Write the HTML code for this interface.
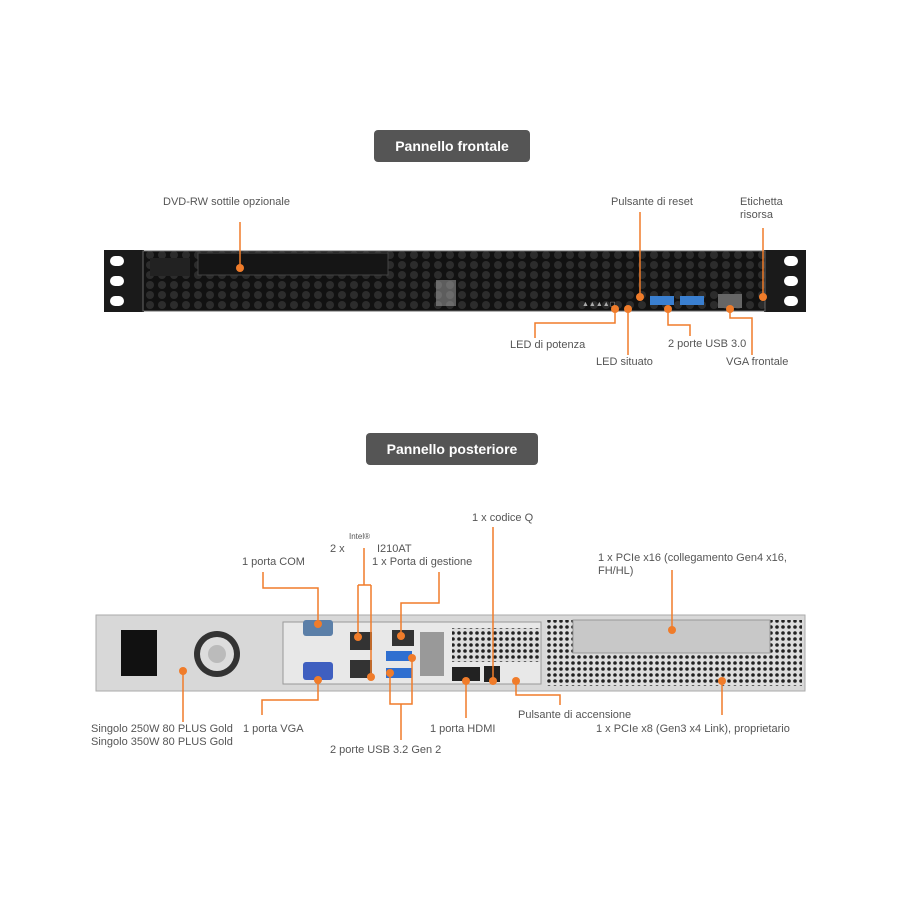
<!DOCTYPE html><html><head><style>
body{margin:0;background:#fff;width:900px;height:900px;position:relative;overflow:hidden;font-family:"Liberation Sans",sans-serif}
.t{position:absolute;font-size:11px;color:#555;white-space:nowrap;line-height:13px}
.b{position:absolute;background:#555;color:#fff;font-weight:bold;font-size:14px;border-radius:4px;text-align:center;line-height:32px}
svg{position:absolute;left:0;top:0}
</style></head><body>
<div class="b" style="left:374px;top:130px;width:156px;height:32px">Pannello frontale</div>
<div class="b" style="left:366px;top:433px;width:172px;height:32px">Pannello posteriore</div>
<svg width="900" height="900">
<defs>
<pattern id="hx" width="12" height="10" patternUnits="userSpaceOnUse"><rect width="12" height="10" fill="#111"/><circle cx="6" cy="5" r="4" fill="#2c2c2c"/></pattern>
<pattern id="gd" width="6" height="6" patternUnits="userSpaceOnUse"><rect width="6" height="6" fill="#ddd"/><circle cx="3" cy="3" r="1.8" fill="#222"/></pattern>
</defs>
<rect x="104" y="250" width="40" height="62" fill="#1a1a1a"/>
<rect x="764" y="250" width="42" height="62" fill="#1a1a1a"/>
<g fill="#fff"><rect x="110" y="256" width="14" height="10" rx="5"/><rect x="110" y="276" width="14" height="10" rx="5"/><rect x="110" y="296" width="14" height="10" rx="5"/>
<rect x="784" y="256" width="14" height="10" rx="5"/><rect x="784" y="276" width="14" height="10" rx="5"/><rect x="784" y="296" width="14" height="10" rx="5"/></g>
<rect x="143" y="251" width="622" height="60" fill="url(#hx)" stroke="#666"/>
<rect x="198" y="253" width="190" height="22" fill="#151515" stroke="#444"/>
<rect x="150" y="258" width="40" height="18" fill="#222"/>
<rect x="436" y="280" width="20" height="26" fill="#aaa" opacity=".5"/>
<rect x="650" y="296" width="24" height="9" fill="#3a7fd0"/><rect x="680" y="296" width="24" height="9" fill="#3a7fd0"/>
<rect x="718" y="294" width="24" height="14" fill="#666"/>
<text x="582" y="306" font-size="7" fill="#aaa" font-family="Liberation Sans">▲▲▲▲◻</text>
<rect x="96" y="615" width="709" height="76" fill="#d8d8d8" stroke="#aaa"/>
<rect x="121" y="630" width="36" height="46" fill="#111"/>
<circle cx="217" cy="654" r="23" fill="#333"/><circle cx="217" cy="654" r="17" fill="#ddd"/><circle cx="217" cy="654" r="9" fill="#bbb"/>
<rect x="283" y="622" width="258" height="62" fill="#e8e8e8" stroke="#999"/>
<rect x="303" y="620" width="30" height="16" rx="3" fill="#5b7fa8"/>
<rect x="303" y="662" width="30" height="18" rx="3" fill="#3f5fc0"/>
<rect x="350" y="632" width="22" height="18" fill="#333"/><rect x="350" y="660" width="22" height="18" fill="#333"/>
<rect x="392" y="630" width="22" height="16" fill="#333"/>
<rect x="386" y="651" width="26" height="10" fill="#2f6fd0"/><rect x="386" y="668" width="26" height="10" fill="#2f6fd0"/>
<rect x="420" y="632" width="24" height="44" fill="#999"/>
<rect x="452" y="628" width="88" height="34" fill="url(#gd)"/>
<rect x="452" y="667" width="28" height="14" fill="#222"/><rect x="484" y="666" width="16" height="16" fill="#222"/>
<rect x="546" y="620" width="256" height="66" fill="url(#gd)"/>
<rect x="573" y="620" width="197" height="33" fill="#c8c8c8" stroke="#999"/>
<rect x="686" y="662" width="62" height="24" fill="url(#gd)"/>
<g stroke="#f07c2a" stroke-width="1.5" fill="none">
<path d="M240 222V268M640 212V297M763 228V297M615 309V323H535V338M628 309V355M668 309V325H690V336M730 309V318H752V355"/>
<path d="M263 572V588H318V624M364 548V585M358 585H371M358 585V637M371 585V677M439 572V603H401V636M493 527V681M672 570V630M183 671V722M318 680V700H262V715M390 673V704H412V658M401 704V740M466 681V718M516 681V695H560V705M722 681V715"/>
</g>
<g fill="#f07c2a">
<circle cx="240" cy="268" r="4"/><circle cx="640" cy="297" r="4"/><circle cx="763" cy="297" r="4"/><circle cx="615" cy="309" r="4"/><circle cx="628" cy="309" r="4"/><circle cx="668" cy="309" r="4"/><circle cx="730" cy="309" r="4"/>
<circle cx="318" cy="624" r="4"/><circle cx="358" cy="637" r="4"/><circle cx="371" cy="677" r="4"/><circle cx="401" cy="636" r="4"/><circle cx="412" cy="658" r="4"/><circle cx="390" cy="673" r="4"/><circle cx="466" cy="681" r="4"/><circle cx="493" cy="681" r="4"/><circle cx="516" cy="681" r="4"/><circle cx="318" cy="680" r="4"/><circle cx="183" cy="671" r="4"/><circle cx="672" cy="630" r="4"/><circle cx="722" cy="681" r="4"/>
</g>
</svg>
<div class="t" style="left:163px;top:196px">DVD-RW sottile opzionale</div>
<div class="t" style="left:611px;top:196px">Pulsante di reset</div>
<div class="t" style="left:740px;top:196px">Etichetta<br>risorsa</div>
<div class="t" style="left:510px;top:339px">LED di potenza</div>
<div class="t" style="left:596px;top:356px">LED situato</div>
<div class="t" style="left:668px;top:338px">2 porte USB 3.0</div>
<div class="t" style="left:726px;top:356px">VGA frontale</div>
<div class="t" style="left:472px;top:512px">1 x codice Q</div>
<div class="t" style="left:349px;top:530px;font-size:8px">Intel®</div>
<div class="t" style="left:330px;top:543px">2 x</div>
<div class="t" style="left:377px;top:543px">I210AT</div>
<div class="t" style="left:372px;top:556px">1 x Porta di gestione</div>
<div class="t" style="left:242px;top:556px">1 porta COM</div>
<div class="t" style="left:598px;top:552px">1 x PCIe x16 (collegamento Gen4 x16,<br>FH/HL)</div>
<div class="t" style="left:91px;top:723px">Singolo 250W 80 PLUS Gold<br>Singolo 350W 80 PLUS Gold</div>
<div class="t" style="left:243px;top:723px">1 porta VGA</div>
<div class="t" style="left:330px;top:744px">2 porte USB 3.2 Gen 2</div>
<div class="t" style="left:430px;top:723px">1 porta HDMI</div>
<div class="t" style="left:518px;top:709px">Pulsante di accensione</div>
<div class="t" style="left:596px;top:723px">1 x PCIe x8 (Gen3 x4 Link), proprietario</div>
</body></html>
